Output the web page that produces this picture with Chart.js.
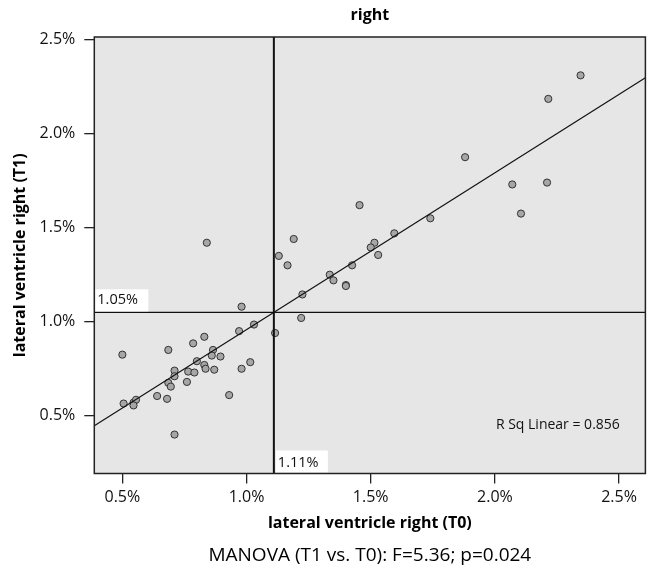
<!DOCTYPE html>
<html><head><meta charset="utf-8">
<script src="https://cdn.jsdelivr.net/npm/chart.js@4/dist/chart.umd.min.js"></script>
<style>html,body{margin:0;padding:0;background:#fff}#wrap{width:650px;height:572px}</style>
</head><body><div id="wrap"><canvas id="c" width="650" height="572"></canvas></div>
<script>
// lateral ventricle right, T0 (x) and T1 (y), in percent
const t0Values = [0.84,1.19,1.455,2.345,2.215,1.88,2.07,2.21,2.105,1.74,1.595,1.515,1.50,1.53,1.13,1.165,1.335,1.35,1.40,1.40,1.425,1.225,1.22,1.115,0.98,1.03,0.97,0.83,0.785,0.685,0.865,0.86,0.895,0.80,1.015,0.50,0.83,0.835,0.87,0.98,0.765,0.79,0.71,0.71,0.685,0.695,0.76,0.64,0.68,0.93,0.505,0.545,0.555,0.545,0.71];
const t1Values = [1.42,1.44,1.62,2.31,2.185,1.875,1.73,1.74,1.575,1.55,1.47,1.42,1.395,1.355,1.35,1.30,1.25,1.22,1.195,1.19,1.30,1.145,1.02,0.94,1.08,0.985,0.95,0.92,0.885,0.85,0.85,0.82,0.815,0.79,0.785,0.825,0.77,0.75,0.745,0.75,0.735,0.73,0.74,0.71,0.675,0.655,0.68,0.605,0.59,0.61,0.565,0.57,0.585,0.555,0.40];
const xTickValues = [0.5,1.0,1.5,2.0,2.5];
const yTickValues = [0.5,1.0,1.5,2.0,2.5];
const xRange = [0.387, 2.606];
const yRange = [0.193, 2.514];
const refT0 = 1.11;   // vertical reference (mean T0)
const refT1 = 1.05;   // horizontal reference (mean T1)
const fitSlope = 0.834;
const fitIntercept = refT1 - fitSlope * refT0;
const rSquared = 0.856;
const chartTitle = 'right';
const xTitle = 'lateral ventricle right (T0)';
const yTitle = 'lateral ventricle right (T1)';
const footNote = 'MANOVA (T1 vs. T0): F=5.36; p=0.024';

const FONT = "'Open Sans', 'Noto Sans', sans-serif";
const points = t0Values.map((v, i) => ({x: v, y: t1Values[i]}));
const fitLine = xRange.map(x => ({x: x, y: fitIntercept + fitSlope * x}));
const pct = v => Number(v).toFixed(1) + '%';

const decor = {
  id: 'decor',
  beforeDraw(chart) {
    const {ctx, chartArea: a} = chart;
    ctx.save();
    ctx.fillStyle = '#e6e6e6';
    ctx.fillRect(a.left, a.top, a.right - a.left, a.bottom - a.top);
    ctx.restore();
  },
  afterDatasetsDraw(chart) {
    const {ctx, chartArea: a, scales: {x, y}} = chart;
    const px = x.getPixelForValue(refT0), py = y.getPixelForValue(refT1);
    ctx.save();
    // reference lines
    ctx.strokeStyle = '#111';
    ctx.lineWidth = 1.3;
    ctx.beginPath(); ctx.moveTo(a.left, py); ctx.lineTo(a.right, py); ctx.stroke();
    ctx.lineWidth = 2;
    ctx.beginPath(); ctx.moveTo(px, a.top); ctx.lineTo(px, a.bottom); ctx.stroke();
    // labels for reference lines
    ctx.font = "14.5px " + FONT;
    ctx.textBaseline = 'middle';
    ctx.textAlign = 'left';
    ctx.fillStyle = '#fff';
    ctx.fillRect(a.left + 1, py - 23, 53, 22);
    ctx.fillRect(px + 2, a.bottom - 23, 52, 22);
    ctx.fillStyle = '#111';
    ctx.fillText(refT1.toFixed(2) + '%', a.left + 3, py - 12);
    ctx.fillText(refT0.toFixed(2) + '%', px + 4, a.bottom - 11);
    // R squared
    ctx.font = "14px " + FONT;
    ctx.fillText('R Sq Linear = ' + rSquared.toFixed(3), x.getPixelForValue(2.0) + 1, y.getPixelForValue(0.45));
    // frame
    ctx.strokeStyle = '#222';
    ctx.lineWidth = 1.5;
    ctx.strokeRect(a.left, a.top, a.right - a.left, a.bottom - a.top);
    // title
    ctx.font = "bold 16px " + FONT;
    ctx.textAlign = 'center';
    ctx.fillStyle = '#000';
    ctx.fillText(chartTitle, (a.left + a.right) / 2, 15);
    // footnote
    ctx.font = "19px " + FONT;
    ctx.fillText(footNote, (a.left + a.right) / 2, 556);
    ctx.restore();
  }
};

new Chart(document.getElementById('c'), {
  type: 'scatter',
  data: {
    datasets: [
      {
        type: 'line', data: fitLine, order: 0,
        borderColor: '#111', borderWidth: 1.2, pointRadius: 0, fill: false, tension: 0
      },
      {
        data: points, order: 1,
        backgroundColor: '#a6a6a6', borderColor: '#333', borderWidth: 1,
        pointRadius: 3.6, pointHoverRadius: 3.6
      }
    ]
  },
  options: {
    responsive: false, animation: false, devicePixelRatio: 1,
    layout: {padding: {top: 37, right: 4, left: 0, bottom: 0}},
    plugins: {legend: {display: false}, tooltip: {enabled: false}, title: {display: false}},
    scales: {
      x: {
        type: 'linear', min: xRange[0], max: xRange[1],
        afterFit(s) { s.height = 98.5; },
        afterBuildTicks(s) { s.ticks = xTickValues.map(v => ({value: v})); },
        grid: {drawOnChartArea: false, drawTicks: true, tickLength: 10, color: '#222', lineWidth: 1.3},
        border: {display: false},
        ticks: {callback: pct, padding: 4, color: '#111', font: {family: FONT, size: 16}, maxRotation: 0},
        title: {display: true, text: xTitle, color: '#000', font: {family: FONT, size: 16, weight: 'bold'}, padding: {top: 0, bottom: 39}}
      },
      y: {
        type: 'linear', min: yRange[0], max: yRange[1],
        afterFit(s) { s.width = 94.3; },
        afterBuildTicks(s) { s.ticks = yTickValues.map(v => ({value: v})); },
        grid: {drawOnChartArea: false, drawTicks: true, tickLength: 10, color: '#222', lineWidth: 1.3},
        border: {display: false},
        ticks: {callback: pct, padding: 9, color: '#111', font: {family: FONT, size: 16}},
        title: {display: true, text: yTitle, color: '#000', font: {family: FONT, size: 16, weight: 'bold'}, padding: {top: 11, bottom: 0}}
      }
    }
  },
  plugins: [decor]
});
</script>
</body></html>
